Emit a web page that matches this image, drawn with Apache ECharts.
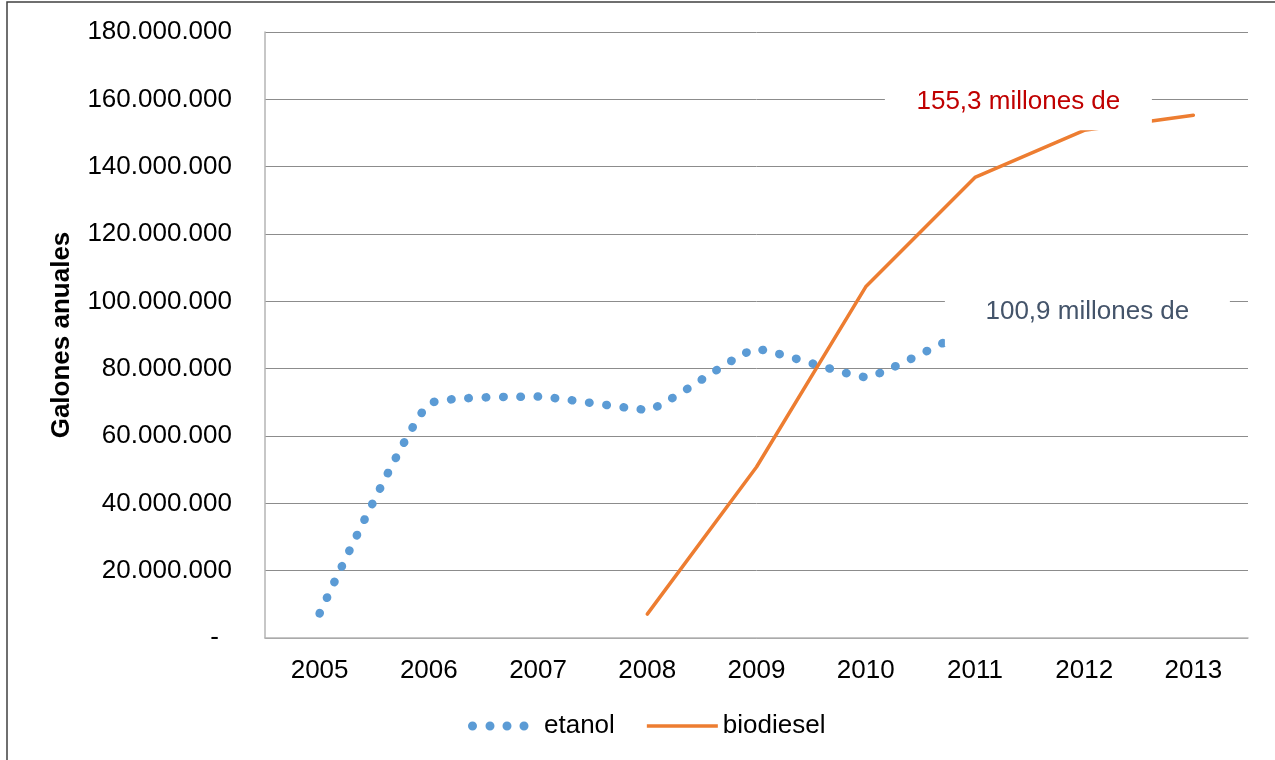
<!DOCTYPE html>
<html>
<head>
<meta charset="utf-8">
<script src="https://cdn.jsdelivr.net/npm/echarts@6/dist/echarts.min.js"></script>
<style>
  html, body { margin: 0; padding: 0; background: #fff; }
  #chart { width: 1275px; height: 760px; }
</style>
</head>
<body>
<div id="chart"></div>
<script>
// Annual production in gallons
const years = ['2005', '2006', '2007', '2008', '2009', '2010', '2011', '2012', '2013'];
const etanol = [7300000, 69500000, 71700000, 67800000, 85800000, 77500000, 92000000, 96500000, 100900000];
const biodiesel = [null, null, null, 7100000, 50800000, 104300000, 136800000, 150800000, 155300000];
const yTicks = { min: 0, max: 180000000, step: 20000000 };

const FONT = '"Liberation Sans", Arial, sans-serif';
const FS = 26;

function thousands(v) {
  return String(Math.round(v)).replace(/\B(?=(\d{3})+(?!\d))/g, '.');
}
function millonesLabel(v) {
  return (v / 1e6).toFixed(1).replace('.', ',') + ' millones de';
}

// Legend icons: a row of dots for the dotted series, a thin bar for the solid one
function dot(cx, cy, r) {
  return 'M' + (cx - r) + ',' + cy + 'a' + r + ',' + r + ' 0 1,0 ' + (2 * r) + ',0a' + r + ',' + r + ' 0 1,0 ' + (-2 * r) + ',0z';
}
const dotsIcon = 'path://' + dot(4.5, 4.5, 4.5) + dot(22, 4.5, 4.5) + dot(39, 4.5, 4.5) + dot(56, 4.5, 4.5) + dot(70.99, 4.5, 0.01);
const barIcon = 'path://' + dot(0.01, 0.01, 0.01) + 'M0,2.75h71v3.5h-71z' + dot(0.01, 8.99, 0.01);

const lastIdx = years.length - 1;

const chart = echarts.init(document.getElementById('chart'), null, { renderer: 'canvas' });
chart.setOption({
  backgroundColor: '#ffffff',
  animation: false,
  textStyle: { fontFamily: FONT },
  grid: { left: 265, right: 27, top: 32, bottom: 122 },
  graphic: [{
    type: 'rect',
    silent: true,
    z: -1,
    shape: { x: 7, y: 2, width: 1400, height: 900 },
    style: { fill: 'none', stroke: '#404040', lineWidth: 1.5 }
  }],
  legend: {
    left: 463,
    top: 708,
    itemWidth: 71,
    itemHeight: 9,
    itemGap: 32,
    textStyle: { fontSize: FS, color: '#000', fontFamily: FONT },
    data: [
      { name: 'etanol', icon: dotsIcon },
      { name: 'biodiesel', icon: barIcon }
    ]
  },
  xAxis: {
    type: 'category',
    data: years,
    boundaryGap: true,
    axisLine: { lineStyle: { color: '#b4b4b4', width: 1.5 } },
    axisTick: { show: false },
    axisLabel: { fontSize: FS, color: '#000', margin: 20, fontFamily: FONT }
  },
  yAxis: {
    type: 'value',
    min: yTicks.min,
    max: yTicks.max,
    interval: yTicks.step,
    name: 'Galones anuales',
    nameLocation: 'middle',
    nameGap: 190,
    nameTextStyle: { fontSize: FS, fontWeight: 'bold', color: '#000', fontFamily: FONT },
    axisLine: { show: true, lineStyle: { color: '#b4b4b4', width: 1.5 } },
    axisTick: { show: false },
    splitLine: { lineStyle: { color: '#8c8c8c', width: 1 } },
    axisLabel: {
      fontSize: FS,
      color: '#000',
      margin: 33,
      fontFamily: FONT,
      formatter: function (v) { return v === 0 ? '{z|-}' : thousands(v); },
      rich: { z: { fontSize: FS, color: '#000', padding: [0, 13, 0, 0], fontFamily: FONT } }
    }
  },
  series: [
    {
      name: 'etanol',
      type: 'line',
      data: etanol,
      smooth: 0.13,
      symbol: 'none',
      color: '#5B9BD5',
      lineStyle: { color: '#5B9BD5', width: 8.5, type: [0.5, 16.8], cap: 'round' },
      z: 3,
      markPoint: {
        silent: true,
        z: 6,
        symbol: 'rect',
        symbolSize: [285, 58],
        symbolOffset: [-106, 19],
        itemStyle: { color: '#ffffff' },
        label: {
          show: true,
          position: 'inside',
          offset: [0, -5],
          fontSize: FS,
          color: '#44546A',
          fontFamily: FONT,
          formatter: function (p) { return millonesLabel(p.value); }
        },
        data: [{ coord: [years[lastIdx], etanol[lastIdx]], value: etanol[lastIdx] }]
      }
    },
    {
      name: 'biodiesel',
      type: 'line',
      data: biodiesel,
      smooth: false,
      symbol: 'none',
      color: '#ED7D31',
      lineStyle: { color: '#ED7D31', width: 3.5, cap: 'round', join: 'round' },
      z: 4,
      markPoint: {
        silent: true,
        z: 7,
        symbol: 'rect',
        symbolSize: [267, 46],
        symbolOffset: [-175, -8],
        itemStyle: { color: '#ffffff' },
        label: {
          show: true,
          position: 'inside',
          offset: [0, -5],
          fontSize: FS,
          color: '#C00000',
          fontFamily: FONT,
          formatter: function (p) { return millonesLabel(p.value); }
        },
        data: [{ coord: [years[lastIdx], biodiesel[lastIdx]], value: biodiesel[lastIdx] }]
      }
    }
  ]
});
</script>
</body>
</html>
